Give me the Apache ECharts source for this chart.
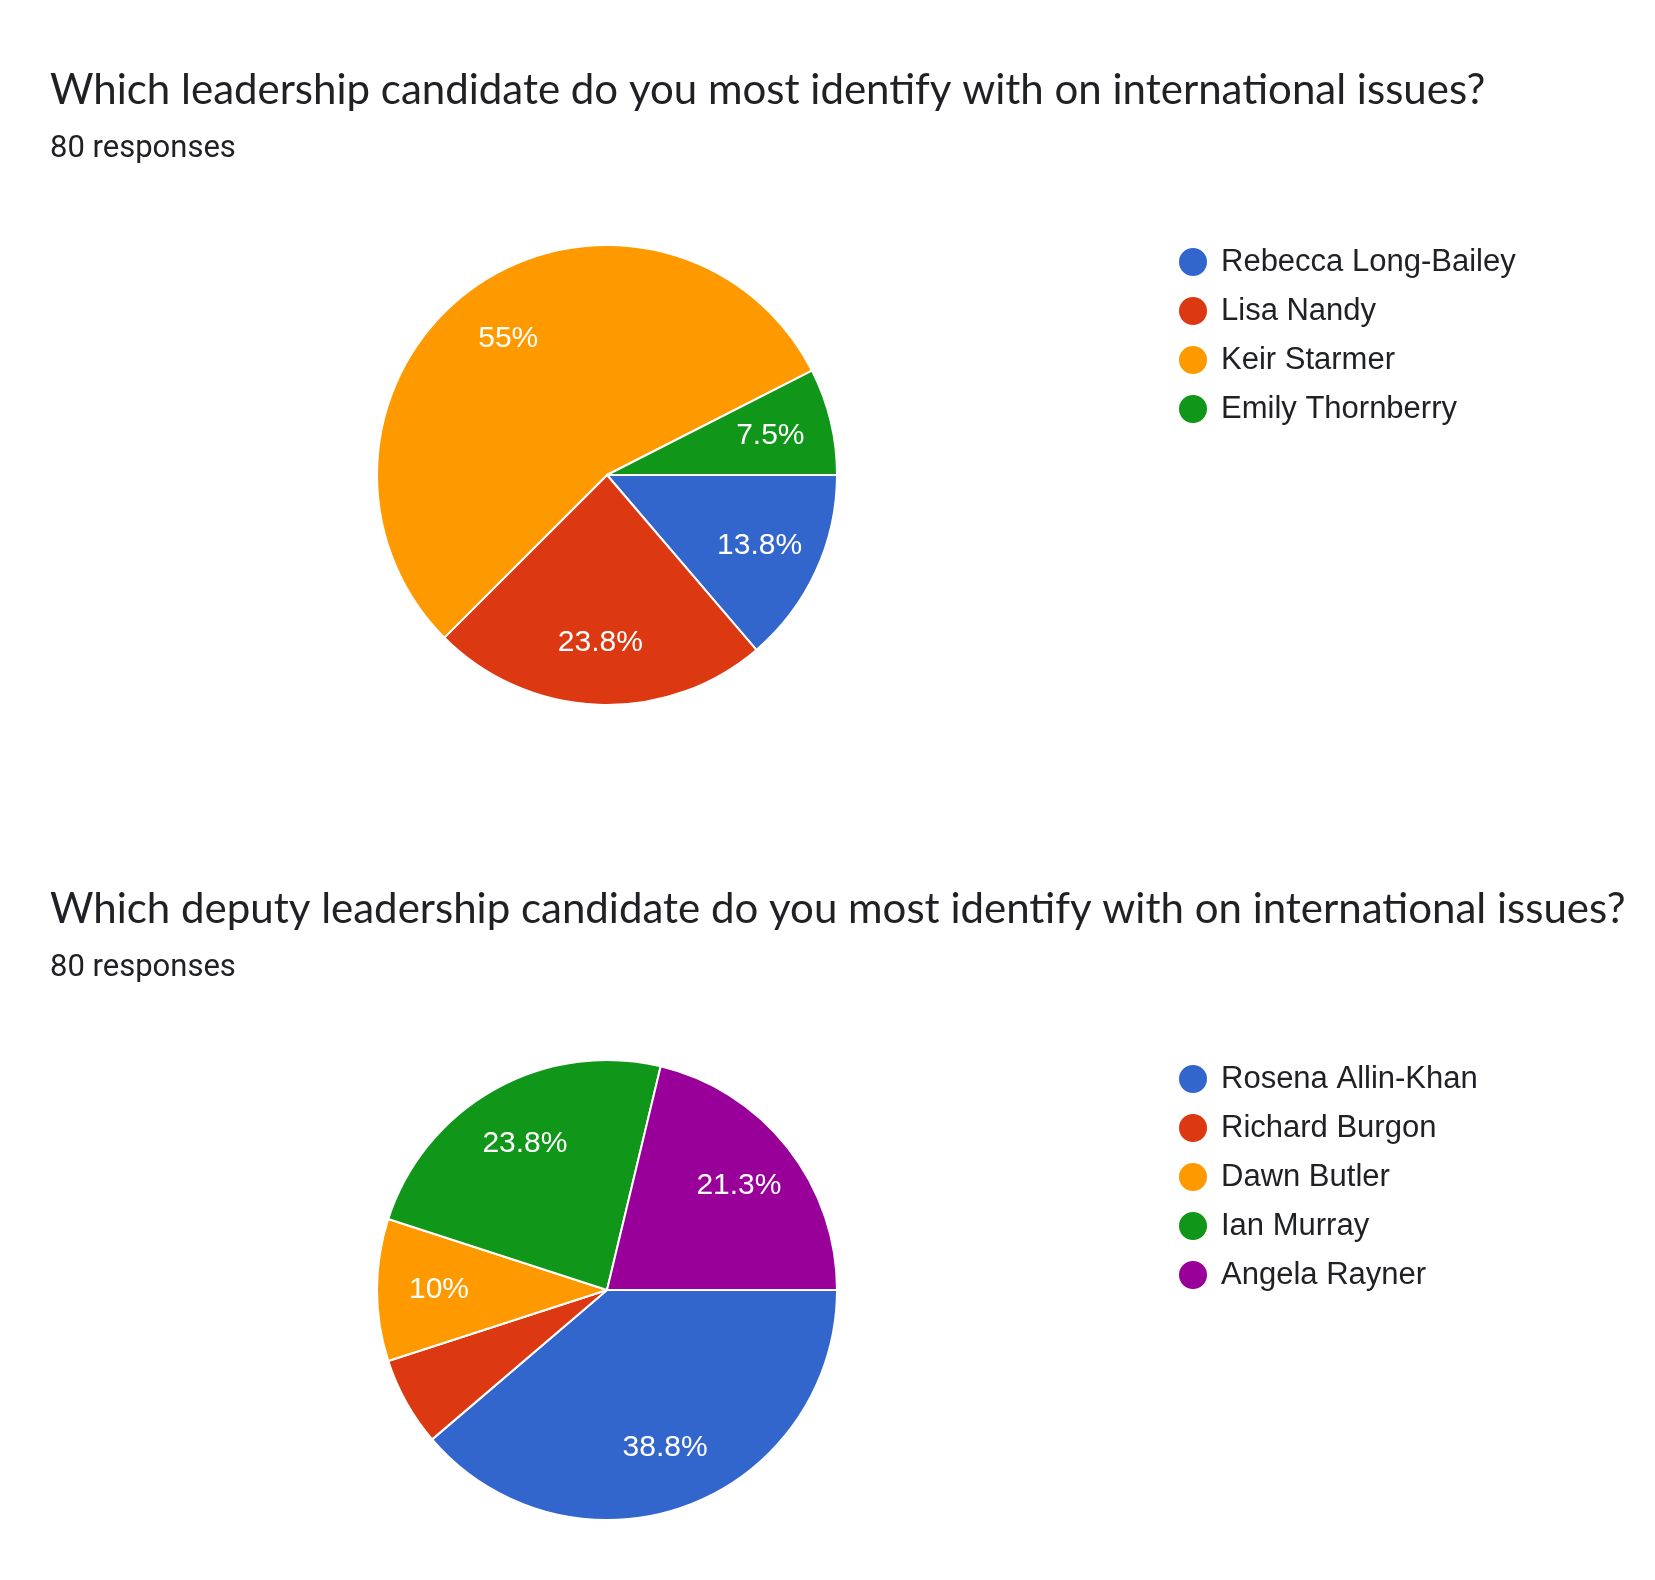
<!DOCTYPE html>
<html lang="en">
<head>
    <meta charset="UTF-8">
    <title>Leadership survey</title>
    <script src="https://cdn.jsdelivr.net/npm/echarts@6/dist/echarts.min.js"></script>
    <style>
        html, body { margin: 0; padding: 0; background: #fff; }
        #chart { width: 1655px; height: 1580px; }
    </style>
</head>
<body>
<div id="chart"></div>
<script>
    // survey answers, 80 responses each
    const leaderNames = ['Rebecca Long-Bailey', 'Lisa Nandy', 'Keir Starmer', 'Emily Thornberry'];
    const leaderCounts = [11, 19, 44, 6];
    const deputyNames = ['Rosena Allin-Khan', 'Richard Burgon', 'Dawn Butler', 'Ian Murray', 'Angela Rayner'];
    const deputyCounts = [31, 5, 8, 19, 17];
    const questions = [
        'Which leadership candidate do you most identify with on international issues?',
        'Which deputy leadership candidate do you most identify with on international issues?'
    ];
    const responses = '80 responses';
    const colors = ['#3366cc', '#dc3912', '#ff9900', '#109618', '#990099'];

    const chart = echarts.init(document.getElementById('chart'));

    function toData(names, counts) {
        return names.map(function (n, i) {
            return {name: n, value: counts[i], itemStyle: {color: colors[i]}};
        });
    }

    function pctLabel(counts) {
        const total = counts.reduce(function (a, b) { return a + b; }, 0);
        return function (p) {
            const pct = p.value / total * 100;
            if (pct < 7) return '';
            return pct.toFixed(1).replace(/\.0$/, '') + '%';
        };
    }

    // one pie for the slices, a see-through ring on top only to carry the labels
    function pieSeries(names, counts, cy) {
        return [{
            type: 'pie',
            center: [607, cy],
            radius: [0, 230],
            startAngle: 0,
            clockwise: true,
            silent: true,
            label: {show: false},
            labelLine: {show: false},
            itemStyle: {borderColor: '#fff', borderWidth: 2},
            data: toData(names, counts)
        }, {
            type: 'pie',
            center: [607, cy],
            radius: [100, 230],
            startAngle: 0,
            clockwise: true,
            silent: true,
            legendHoverLink: false,
            label: {
                show: true,
                position: 'inside',
                formatter: pctLabel(counts),
                color: '#fff',
                fontSize: 30,
                fontFamily: 'Liberation Sans',
                padding: [10, 0, 0, 0]
            },
            labelLine: {show: false},
            data: toData(names, counts).map(function (d) {
                d.itemStyle = {color: 'rgba(0,0,0,0)', borderWidth: 0};
                return d;
            })
        }];
    }

    const legendBase = {
        orient: 'vertical',
        left: 1172,
        icon: 'circle',
        itemWidth: 30,
        itemHeight: 30,
        itemGap: 17,
        selectedMode: false,
        textStyle: {fontSize: 31, color: '#202124', fontFamily: 'Liberation Sans', padding: [0, 0, 0, 8]}
    };

    const option = {
        animation: false,
        title: [0, 1].map(function (i) {
            return {
                text: questions[i],
                subtext: responses,
                left: 45,
                top: i === 0 ? 64 : 883,
                itemGap: 23,
                textStyle: {fontSize: 42, fontWeight: 'normal', color: '#202124', fontFamily: 'Lato'},
                subtextStyle: {fontSize: 31, color: '#202124', fontFamily: 'Roboto'}
            };
        }),
        legend: [
            Object.assign({}, legendBase, {top: 241, data: leaderNames}),
            Object.assign({}, legendBase, {top: 1058, data: deputyNames})
        ],
        series: pieSeries(leaderNames, leaderCounts, 475)
            .concat(pieSeries(deputyNames, deputyCounts, 1290))
    };
    chart.setOption(option);
</script>
</body>
</html>
